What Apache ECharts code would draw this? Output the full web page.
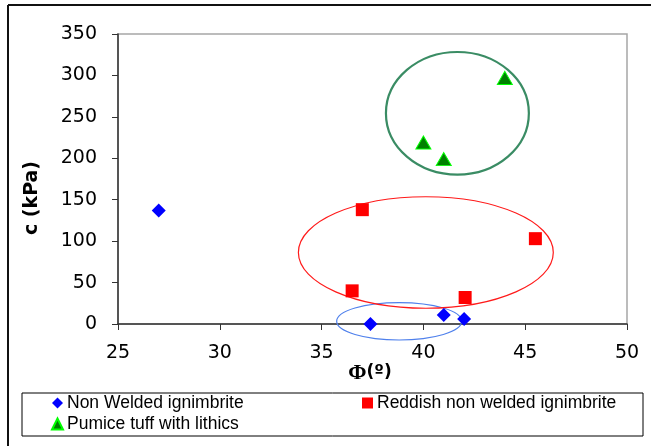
<!DOCTYPE html>
<html><head><meta charset="utf-8">
<script src="https://cdn.jsdelivr.net/npm/echarts@6/dist/echarts.min.js"></script>
<style>html,body{margin:0;padding:0;background:#fff}#c{width:651px;height:446px}</style>
</head><body><div id="c"></div>
<script>
// Data (Φ in degrees, c in kPa)
var nonWelded = [[27.0, 137], [37.4, 0], [41.0, 11], [42.0, 6]];
var reddish = [[37.0, 138], [36.5, 40], [42.05, 32], [45.5, 103]];
var pumice = [[44.0, 297], [40.0, 219], [41.0, 199]];
// annotation ellipses: [centerΦ, centerC, radiusΦ, radiusC]
var ellipses = [[38.81, 3.3, 3.07, 22.6], [40.12, 86.3, 6.26, 67.3], [41.67, 254.3, 3.51, 74.0]];
var xTicks = [25, 30, 35, 40, 45, 50];
var yTicks = [0, 50, 100, 150, 200, 250, 300, 350];

var ellipseColors = ['#4f80ec', '#ff1a1a', '#3a8c64'];
var ellipseWidths = [1.2, 1.2, 2.2];

var chart = echarts.init(document.getElementById('c'), null, {renderer: 'canvas'});
var font = 'Liberation Sans, Arial, sans-serif';
var tickFont = 'DejaVu Sans, sans-serif';
chart.setOption({
  animation: false,
  backgroundColor: '#fff',
  grid: {left: 118, top: 34, right: 24, bottom: 122, show: true, borderColor: '#a6a6a6', borderWidth: 1.5},
  xAxis: {
    type: 'value', min: xTicks[0], max: xTicks[xTicks.length - 1], interval: 5,
    axisLine: {show: true, onZero: false, lineStyle: {color: '#333', width: 1.5}},
    axisTick: {show: true, length: 6, lineStyle: {color: '#333'}},
    axisLabel: {fontSize: 19, color: '#000', fontFamily: tickFont, margin: 20},
    splitLine: {show: false}
  },
  yAxis: {
    type: 'value', min: yTicks[0], max: yTicks[yTicks.length - 1], interval: 50,
    axisLine: {show: true, onZero: false, lineStyle: {color: '#333', width: 1.5}},
    axisTick: {show: true, length: 6, lineStyle: {color: '#333'}},
    axisLabel: {fontSize: 19, color: '#000', fontFamily: tickFont, margin: 21},
    splitLine: {show: false}
  },
  legend: [{
    data: ['Non Welded ignimbrite', 'Pumice tuff with lithics'],
    orient: 'vertical', left: 51, top: 394, itemGap: 3, itemWidth: 11, itemHeight: 11,
    textStyle: {fontSize: 17.5, color: '#000', fontFamily: font, padding: [0, 0, 0, -1]},
    padding: 0
  }, {
    data: ['Reddish non welded ignimbrite'],
    orient: 'vertical', left: 362, top: 394, itemGap: 3, itemWidth: 11, itemHeight: 11,
    textStyle: {fontSize: 17.5, color: '#000', fontFamily: font, padding: [0, 0, 0, -1]},
    padding: 0
  }],
  graphic: [
    {type: 'line', shape: {x1: 8, y1: 5, x2: 651, y2: 5}, style: {stroke: '#111', lineWidth: 2}},
    {type: 'line', shape: {x1: 8, y1: 5, x2: 8, y2: 446}, style: {stroke: '#111', lineWidth: 2}},
    {type: 'rect', shape: {x: 22, y: 393, width: 621, height: 43}, style: {fill: 'none', stroke: '#000', lineWidth: 1}, z: -1},
    {type: 'text', x: 32, y: 198, rotation: Math.PI / 2,
      style: {text: 'c (kPa)', font: 'bold 19px DejaVu Sans, sans-serif', fill: '#000', align: 'center', verticalAlign: 'middle'}},
    {type: 'text', x: 370, y: 373,
      style: {text: '{p|Φ}{d|(º)}', align: 'center', verticalAlign: 'middle',
        rich: {p: {font: 'bold 22px Liberation Serif, Times New Roman, serif', fill: '#000'},
               d: {font: 'bold 17px DejaVu Sans, sans-serif', fill: '#000'}}}}
  ],
  series: [{
    type: 'custom', name: 'ellipses', data: ellipses, clip: false, z: 1, silent: true,
    renderItem: function (params, api) {
      var c = api.coord([api.value(0), api.value(1)]);
      var s = api.size([api.value(2), api.value(3)]);
      var i = params.dataIndex;
      return {type: 'ellipse', shape: {cx: c[0], cy: c[1], rx: s[0], ry: s[1]},
        style: {fill: 'none', stroke: ellipseColors[i], lineWidth: ellipseWidths[i]}};
    }
  }, {
    type: 'scatter', name: 'Non Welded ignimbrite', data: nonWelded, z: 3,
    symbol: 'diamond', symbolSize: [14, 14], itemStyle: {color: '#0000ff', opacity: 1}
  }, {
    type: 'scatter', name: 'Reddish non welded ignimbrite', data: reddish, z: 3,
    symbol: 'rect', symbolSize: [13, 13], itemStyle: {color: '#ff0000', opacity: 1}
  }, {
    type: 'scatter', name: 'Pumice tuff with lithics', data: pumice, z: 3,
    symbol: 'triangle', symbolSize: [15, 13], itemStyle: {color: '#008000', borderColor: '#00ff00', borderWidth: 1, opacity: 1}
  }]
});
</script></body></html>
